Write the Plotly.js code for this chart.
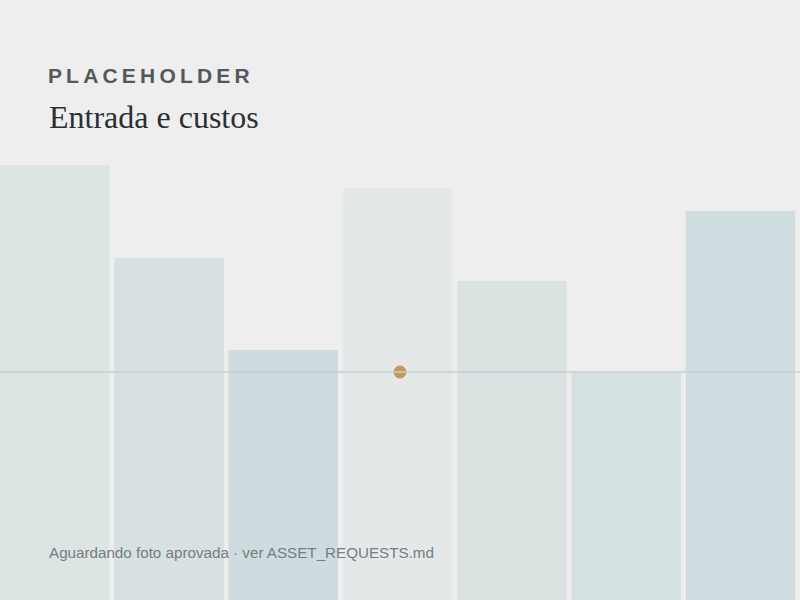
<!DOCTYPE html>
<html>
<head>
<meta charset="utf-8">
<script src="https://cdn.plot.ly/plotly-3.0.1.min.js"></script>
<style>
html,body{margin:0;padding:0;background:#eeeeee;}
#chart{width:800px;height:600px;}
.annotation[data-index="0"] text{letter-spacing:4.2px;}
</style>
</head>
<body>
<div id="chart"></div>
<script>
// Data
var categories = [0, 1, 2, 3, 4, 5, 6];
var values = [435, 342, 250, 412, 319, 228, 389];
var barColors = ['#dde4e4', '#d7e1e1', '#cfdcdf', '#e4e8e8', '#dae2e2', '#d5e0e0', '#cfdde1'];
var refLevel = 228;
var markerX = [3.5];
var markerY = [228];
var eyebrow = 'PLACEHOLDER';
var heading = 'Entrada e custos';
var footer = 'Aguardando foto aprovada · ver ASSET_REQUESTS.md';

var traces = [
  {
    type: 'bar',
    x: categories,
    y: values,
    width: 0.958,
    offset: 0,
    marker: {color: barColors, line: {width: 0}},
    hoverinfo: 'skip'
  },
  {
    type: 'scatter',
    mode: 'markers',
    x: markerX,
    y: markerY,
    marker: {color: '#c4975a', size: 13, line: {width: 0}},
    hoverinfo: 'skip'
  }
];

var layout = {
  width: 800,
  height: 600,
  margin: {l: 0, r: 0, t: 0, b: 0},
  paper_bgcolor: '#eeeeee',
  plot_bgcolor: '#eeeeee',
  showlegend: false,
  xaxis: {range: [0, 7], visible: false, fixedrange: true},
  yaxis: {range: [0, 600], visible: false, fixedrange: true},
  shapes: [
    {type: 'line', xref: 'paper', x0: 0, x1: 1, yref: 'y', y0: refLevel, y1: refLevel,
     line: {color: '#c6cfcf', width: 1.5}, layer: 'above'}
  ],
  annotations: [
    {text: '<b>' + eyebrow + '</b>', xref: 'paper', yref: 'paper', x: 69/800, y: 1 - 62/600,
     xanchor: 'left', yanchor: 'top', showarrow: false,
     font: {family: 'Liberation Sans, Arial, sans-serif', size: 21, color: '#53585c'}},
    {text: heading, xref: 'paper', yref: 'paper', x: 47/800, y: 1 - 97/600,
     xanchor: 'left', yanchor: 'top', showarrow: false,
     font: {family: 'Liberation Serif, Georgia, serif', size: 32, color: '#2b2f33'}},
    {text: footer, xref: 'paper', yref: 'paper', x: 47/800, y: 1 - 542/600,
     xanchor: 'left', yanchor: 'top', showarrow: false,
     font: {family: 'Liberation Sans, Arial, sans-serif', size: 15.2, color: '#767c80'}}
  ]
};

Plotly.newPlot('chart', traces, layout, {displayModeBar: false, staticPlot: true});
</script>
</body>
</html>
